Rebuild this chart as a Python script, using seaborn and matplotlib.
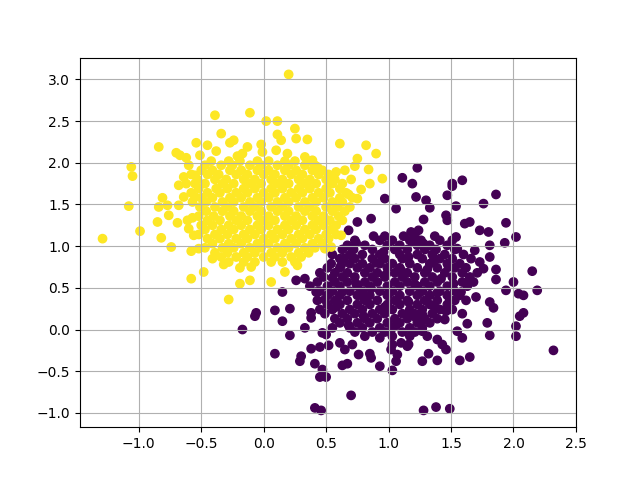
import pandas as pd
import seaborn as sns
import matplotlib.pyplot as plt

# --------------------------------------------------
# Points (data coordinates)
# --------------------------------------------------
# class 0 (dark purple) - scattered points around the cluster
purple_outer = [
    (1.11, 1.82), (1.23, 1.94), (1.59, 1.79), (1.51, 1.75), (1.19, 1.75),
    (0.97, 1.57), (1.06, 1.45), (0.86, 1.33), (0.75, 1.29), (0.68, 1.19),
    (1.51, 1.72), (1.86, 1.62), (1.47, 1.61), (1.22, 1.59), (1.30, 1.55),
    (1.33, 1.46), (1.54, 1.48), (1.76, 1.51), (1.28, 1.32), (1.46, 1.37),
    (1.47, 1.31), (1.61, 1.27), (1.65, 1.29), (1.94, 1.28), (1.73, 1.19),
    (1.80, 1.17), (2.02, 1.11), (1.93, 1.04), (1.54, 1.11), (1.51, 1.07),
    (1.37, 1.12), (1.24, 1.19), (1.18, 1.17), (1.19, 1.05), (1.55, 0.97),
    (1.69, 0.95), (1.81, 1.01), (1.81, 0.87), (2.15, 0.70), (2.00, 0.57),
    (1.94, 0.47), (2.04, 0.43), (2.08, 0.41), (2.19, 0.47), (1.86, 0.72),
    (1.86, 0.60), (1.73, 0.81), (1.76, 0.73), (1.65, 0.59), (1.58, 0.45),
    (1.70, 0.39), (1.81, 0.33), (1.49, 0.35),
    (0.26, 0.59), (0.33, 0.61), (0.15, 0.45), (0.42, 0.45), (0.49, 0.36),
    (0.61, 0.85),
    (-0.07, 0.16), (-0.06, 0.20), (0.09, 0.23), (0.21, 0.25), (0.15, 0.10),
    (0.38, 0.20), (0.38, 0.14), (0.33, 0.02), (0.21, -0.07), (0.47, -0.04),
    (0.50, -0.06), (0.09, -0.29), (0.30, -0.32), (0.29, -0.38), (0.38, -0.23),
    (0.45, -0.21), (0.52, -0.19), (0.41, -0.41), (0.47, -0.48), (0.45, -0.57),
    (0.50, -0.57), (0.70, -0.79), (0.41, -0.94), (0.46, -0.97), (0.61, -0.16),
    (0.65, -0.24), (0.71, -0.18), (0.63, -0.43), (0.67, -0.41), (0.76, -0.30),
    (0.85, -0.29), (0.86, -0.34), (0.93, -0.44), (0.93, -0.10), (1.03, -0.49),
    (1.06, -0.38), (1.07, -0.30), (1.02, -0.24), (1.03, -0.18), (1.10, -0.16),
    (1.15, -0.20),
    (2.32, -0.25), (2.02, -0.08), (2.02, 0.04), (2.05, 0.16), (2.08, 0.20),
    (1.79, 0.08), (1.81, -0.07), (1.84, 0.26), (1.59, 0.19), (1.63, 0.07),
    (1.55, -0.02), (1.59, -0.10), (1.65, -0.33), (1.57, -0.37), (1.39, -0.12),
    (1.43, -0.18), (1.46, -0.24), (1.32, -0.29), (1.27, -0.38), (1.39, -0.37),
    (1.28, -0.97), (1.38, -0.93), (1.49, -0.95), (1.27, -0.02), (1.31, -0.08),
    (1.22, 0.14), (1.26, 0.08), (1.45, 0.12), (1.46, 0.22), (1.16, -0.18),
    (-0.17, 0.00),
]

# class 0 - dense core, rows of x values at a given y
purple_core_rows = {
    1.12: [0.88, 0.97, 1.12, 1.21],
    1.07: [0.73, 0.93, 1.03, 1.17, 1.26, 1.41],
    1.01: [0.67, 0.81, 0.99, 1.09, 1.23, 1.33, 1.47],
    0.96: [0.63, 0.72, 0.87, 1.05, 1.15, 1.29, 1.38, 1.53],
    0.90: [0.55, 0.69, 0.79, 0.93, 1.09, 1.23, 1.35, 1.45, 1.60],
    0.85: [0.64, 0.73, 0.87, 0.97, 1.11, 1.27, 1.41, 1.51, 1.66],
    0.79: [0.54, 0.69, 0.79, 0.93, 1.03, 1.17, 1.33, 1.47, 1.57],
    0.74: [0.51, 0.61, 0.75, 0.85, 0.99, 1.09, 1.23, 1.39, 1.53, 1.62],
    0.68: [0.45, 0.57, 0.67, 0.81, 0.91, 1.05, 1.15, 1.29, 1.45, 1.59, 1.71],
    0.63: [0.48, 0.63, 0.73, 0.87, 0.97, 1.11, 1.21, 1.35, 1.51, 1.65],
    0.57: [0.43, 0.57, 0.67, 0.81, 0.91, 1.05, 1.15, 1.29, 1.39, 1.59, 1.68],
    0.52: [0.37, 0.51, 0.61, 0.75, 0.85, 0.99, 1.09, 1.23, 1.33, 1.47, 1.63],
    0.46: [0.45, 0.55, 0.69, 0.79, 0.93, 1.03, 1.17, 1.27, 1.41, 1.53],
    0.41: [0.51, 0.61, 0.75, 0.85, 0.99, 1.09, 1.23, 1.33, 1.47, 1.57],
    0.35: [0.43, 0.57, 0.67, 0.81, 0.91, 1.05, 1.15, 1.29, 1.39, 1.53, 1.62],
    0.30: [0.51, 0.61, 0.75, 0.85, 0.99, 1.09, 1.23, 1.33, 1.47],
    0.24: [0.45, 0.55, 0.69, 0.79, 0.93, 1.03, 1.17, 1.27, 1.41, 1.51],
    0.19: [0.49, 0.63, 0.73, 0.87, 0.97, 1.11, 1.21, 1.35],
    0.13: [0.57, 0.67, 0.81, 0.91, 1.05, 1.15, 1.29, 1.39],
    0.08: [0.61, 0.75, 0.85, 0.99, 1.09, 1.23, 1.33],
    0.02: [0.55, 0.69, 0.79, 0.93, 1.03, 1.17, 1.27],
    -0.03: [0.73, 0.87, 0.97, 1.11, 1.21],
    -0.08: [0.81, 1.03, 1.17],
}

# class 0 - extra points filling holes in the core
purple_fill = [
    (0.74, 1.04), (1.28, 1.03), (0.96, 0.93), (1.16, 0.87), (1.36, 0.83),
    (0.62, 0.77), (1.10, 0.71), (1.31, 0.72), (0.98, 0.66), (1.42, 0.61),
    (0.74, 0.55), (1.21, 0.54), (1.52, 0.55), (0.63, 0.45), (1.00, 0.44),
    (1.39, 0.44), (0.80, 0.38), (1.16, 0.33), (0.58, 0.27), (0.97, 0.27),
    (1.37, 0.26), (0.80, 0.16), (1.16, 0.19), (0.68, 0.05), (1.06, 0.05),
    (1.27, 0.18), (0.90, 0.80), (1.48, 0.75), (0.55, 0.62), (0.86, 0.49),
]

# class 1 (yellow) - scattered points around the cluster
yellow_outer = [
    (0.20, 3.06), (-0.11, 2.60), (0.02, 2.50), (0.11, 2.50), (0.25, 2.41),
    (0.11, 2.34), (0.14, 2.27), (0.26, 2.29), (0.35, 2.28), (0.61, 2.23),
    (0.82, 2.21), (0.90, 2.11), (0.75, 2.05), (0.84, 1.92), (0.95, 1.81),
    (0.58, 1.89), (0.65, 1.91), (0.73, 1.96), (0.70, 1.80), (0.78, 1.68),
    (0.68, 1.62),
    (-0.13, 2.19), (-0.02, 2.22), (-0.01, 2.13), (0.10, 2.15), (0.19, 2.11),
    (0.33, 2.07), (0.39, 2.03), (0.43, 1.95),
    (-0.39, 2.57), (-0.34, 2.35), (-0.27, 2.24), (-0.24, 2.27), (-0.84, 2.19),
    (-0.54, 2.24), (-0.45, 2.21), (-0.38, 2.14), (-0.70, 2.12), (-0.67, 2.09),
    (-0.62, 2.06), (-0.60, 1.97), (-0.51, 2.09), (-0.21, 2.08), (-0.17, 2.11),
    (-1.06, 1.95), (-1.05, 1.84), (-0.64, 1.83), (-0.55, 1.85), (-0.62, 1.75),
    (-1.29, 1.09), (-1.08, 1.48), (-0.99, 1.18), (-0.85, 1.29), (-0.82, 1.10),
    (-0.74, 0.99), (-0.81, 1.58), (-0.77, 1.49), (-0.84, 1.47), (-0.76, 1.37),
    (-0.69, 1.28), (-0.61, 1.31), (-0.57, 1.34), (-0.68, 1.49), (-0.64, 1.59),
    (-0.55, 1.59), (-0.68, 1.73), (-0.60, 1.21), (-0.56, 1.13), (-0.58, 0.94),
    (-0.52, 0.97), (-0.41, 0.85), (-0.32, 0.78), (-0.48, 0.69), (-0.58, 0.61),
    (-0.28, 0.36), (-0.19, 0.74), (-0.19, 0.55),
    (0.85, 1.75), (0.75, 1.57), (0.62, 1.13), (0.54, 0.99), (0.49, 0.97),
    (0.27, 0.77), (0.17, 0.69), (0.06, 0.57), (-0.11, 0.59), (-0.10, 0.75),
]

# class 1 - dense core, rows of x values at a given y
yellow_core_rows = {
    2.02: [-0.42, -0.28, -0.19, -0.05, 0.04, 0.17, 0.25, 0.38],
    1.97: [-0.47, -0.34, -0.25, -0.11, -0.02, 0.11, 0.20, 0.33, 0.41],
    1.91: [-0.50, -0.41, -0.27, -0.18, -0.05, 0.04, 0.17, 0.26, 0.39, 0.47],
    1.86: [-0.58, -0.45, -0.36, -0.22, -0.13, 0.00, 0.09, 0.22, 0.31, 0.44, 0.52],
    1.80: [-0.53, -0.39, -0.30, -0.16, -0.07, 0.06, 0.15, 0.28, 0.37, 0.50, 0.57],
    1.75: [-0.55, -0.47, -0.33, -0.24, -0.11, -0.02, 0.11, 0.20, 0.33, 0.42, 0.55, 0.63],
    1.69: [-0.52, -0.38, -0.29, -0.16, -0.07, 0.06, 0.15, 0.28, 0.37, 0.50, 0.61],
    1.64: [-0.58, -0.45, -0.35, -0.22, -0.13, 0.00, 0.09, 0.22, 0.31, 0.44, 0.53, 0.66],
    1.58: [-0.50, -0.41, -0.27, -0.18, -0.05, 0.04, 0.17, 0.26, 0.39, 0.48, 0.61, 0.71],
    1.53: [-0.57, -0.46, -0.33, -0.24, -0.11, -0.02, 0.11, 0.20, 0.33, 0.42, 0.55, 0.63],
    1.47: [-0.51, -0.39, -0.29, -0.16, -0.07, 0.06, 0.15, 0.28, 0.37, 0.50, 0.59, 0.69],
    1.42: [-0.46, -0.33, -0.24, -0.11, -0.02, 0.11, 0.20, 0.33, 0.42, 0.55, 0.65],
    1.36: [-0.52, -0.40, -0.27, -0.18, -0.05, 0.04, 0.17, 0.26, 0.39, 0.48, 0.60],
    1.31: [-0.45, -0.35, -0.22, -0.13, 0.00, 0.09, 0.22, 0.31, 0.44, 0.53, 0.63],
    1.25: [-0.50, -0.41, -0.28, -0.18, -0.05, 0.04, 0.17, 0.26, 0.39, 0.48, 0.58],
    1.20: [-0.47, -0.34, -0.24, -0.11, -0.02, 0.11, 0.20, 0.33, 0.42, 0.54],
    1.14: [-0.52, -0.39, -0.29, -0.16, -0.07, 0.06, 0.15, 0.28, 0.37, 0.50, 0.58],
    1.09: [-0.45, -0.35, -0.22, -0.13, 0.00, 0.09, 0.22, 0.31, 0.44, 0.52],
    1.03: [-0.41, -0.28, -0.18, -0.05, 0.04, 0.17, 0.26, 0.39, 0.47],
    0.98: [-0.47, -0.33, -0.24, -0.11, -0.02, 0.11, 0.20, 0.33, 0.41],
    0.92: [-0.39, -0.29, -0.16, -0.07, 0.06, 0.15, 0.28, 0.36],
    0.87: [-0.34, -0.22, -0.13, 0.00, 0.09, 0.22, 0.30],
    0.81: [-0.28, -0.16, -0.07, 0.06, 0.15, 0.25],
}


def rows_to_points(rows):
    return [(x, y) for y, xs in rows.items() for x in xs]


purple = purple_outer + rows_to_points(purple_core_rows) + purple_fill
yellow = yellow_outer + rows_to_points(yellow_core_rows)

df = pd.DataFrame(
    [(x, y, 0) for x, y in purple] + [(x, y, 1) for x, y in yellow],
    columns=["x", "y", "label"],
)

# --------------------------------------------------
# Plot
# --------------------------------------------------
fig, ax = plt.subplots(figsize=(6.4, 4.8), dpi=100)

# same look as plain plt.scatter: s=36 with a 1pt edge in the face colour
sns.scatterplot(
    data=df,
    x="x",
    y="y",
    hue="label",
    palette={0: "#440154", 1: "#fde725"},
    s=36,
    edgecolor="face",
    linewidth=1.0,
    alpha=1,
    legend=False,
    ax=ax,
)

ax.set_xlabel("")
ax.set_ylabel("")
ax.grid(True)

plt.savefig("out.png", dpi=100)
